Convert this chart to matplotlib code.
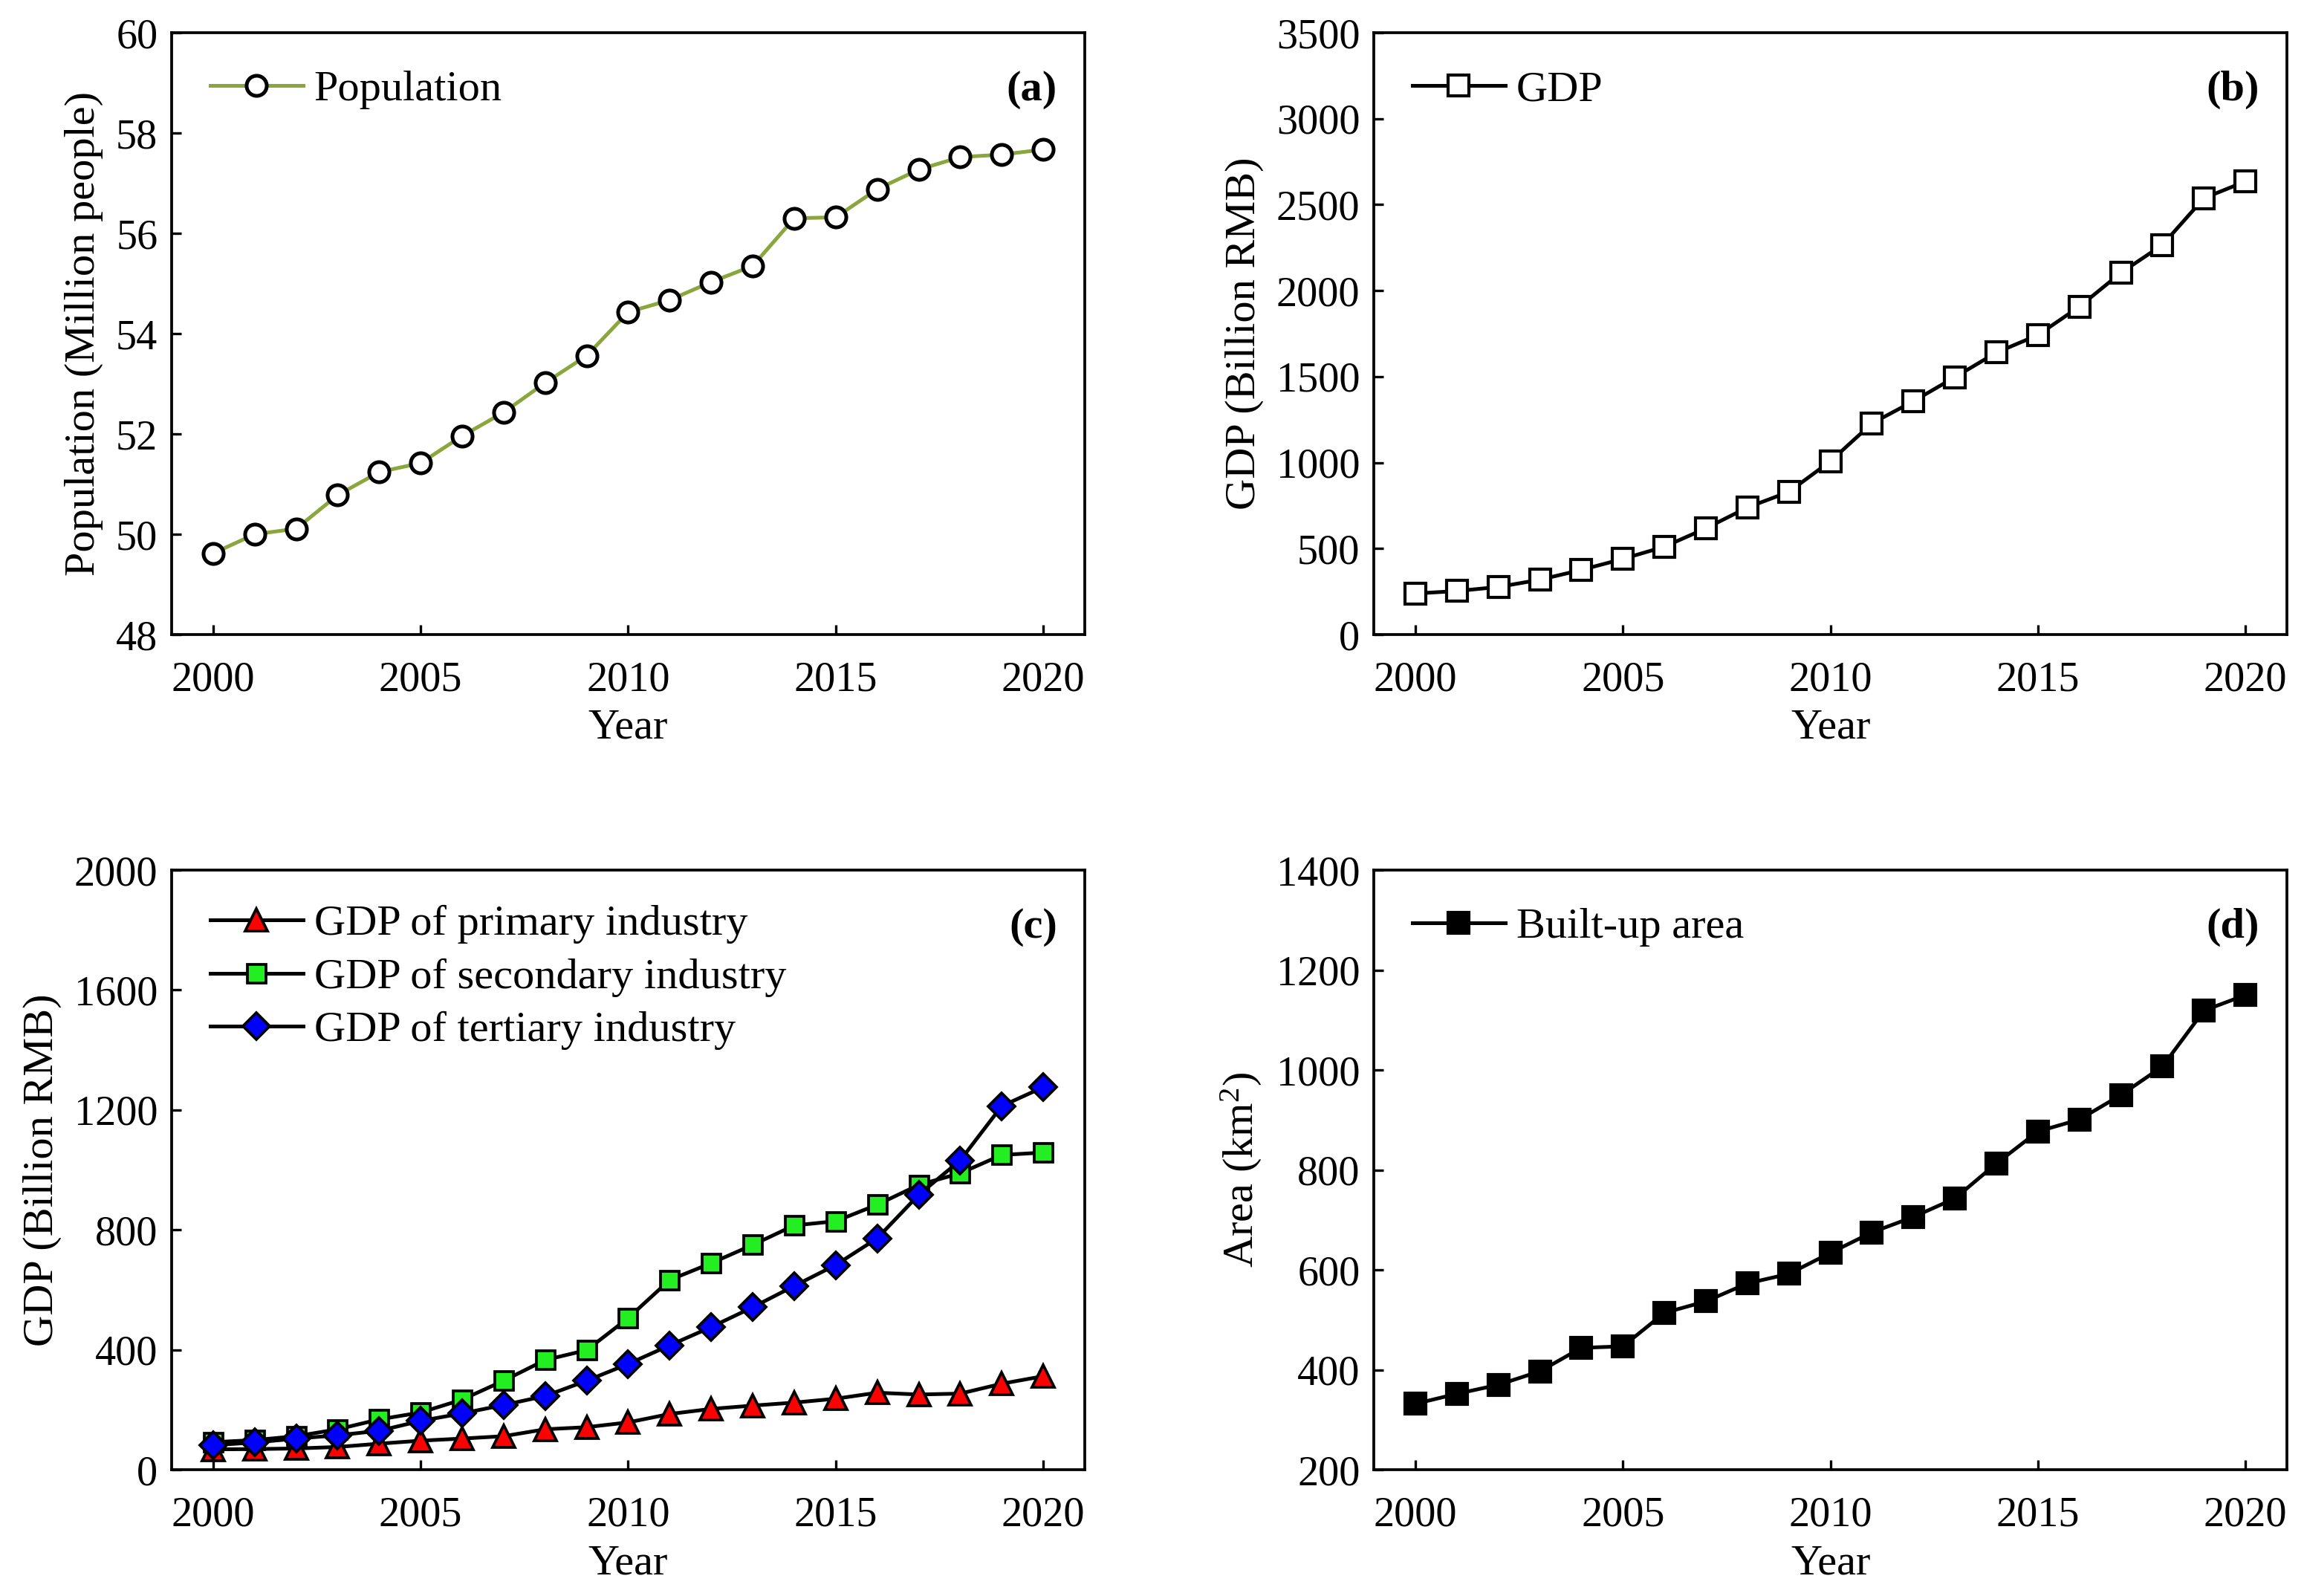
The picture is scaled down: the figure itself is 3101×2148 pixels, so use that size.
import matplotlib
matplotlib.use("Agg")
import matplotlib.pyplot as plt
import numpy as np

plt.rcParams['font.family'] = ['Liberation Serif', 'DejaVu Serif']
plt.rcParams['mathtext.fontset'] = 'custom'
plt.rcParams['mathtext.rm'] = 'Liberation Serif'
plt.rcParams['mathtext.it'] = 'Liberation Serif:italic'

years = np.arange(2000, 2021)

population = [49.62, 50.00, 50.11, 50.78, 51.24, 51.42, 51.96, 52.43, 53.02, 53.56,
              54.43, 54.67, 55.03, 55.35, 56.30, 56.32, 56.88, 57.27, 57.52, 57.57, 57.67]

gdp = [239, 253, 277, 319, 376, 440, 511, 618, 739, 830,
       1008, 1228, 1357, 1497, 1640, 1742, 1907, 2104, 2266, 2538, 2635]

gdp_primary = [68, 69, 71, 76, 87, 97, 104, 112, 135, 142,
               158, 186, 203, 214, 224, 237, 257, 251, 254, 287, 312]
gdp_secondary = [92, 99, 112, 135, 168, 191, 234, 297, 366, 399,
                 506, 633, 689, 750, 815, 829, 884, 950, 989, 1050, 1058]
gdp_tertiary = [82, 91, 104, 115, 130, 163, 188, 216, 246, 297,
                353, 415, 476, 542, 613, 683, 772, 917, 1032, 1213, 1276]

built_up = [332, 352, 370, 397, 444, 447, 514, 537, 573, 592,
            634, 675, 706, 743, 813, 877, 901, 950, 1007, 1119, 1150]

xticks = [2000, 2005, 2010, 2015, 2020]

fig = plt.figure(figsize=(3101 / 300, 2148 / 300), dpi=300)
w, h = 0.3963, 0.3771
ax_a = fig.add_axes([0.0745, 0.6024, w, h])
ax_b = fig.add_axes([0.5963, 0.6024, w, h])
ax_c = fig.add_axes([0.0745, 0.0791, w, 0.3757])
ax_d = fig.add_axes([0.5963, 0.0791, w, 0.3757])

FS = 13.5
LW = 1.2


def style(ax, ylim, yticks, ylabel, tag, leg_y=0.905):
    ax.set_xlim(1999, 2021)
    ax.set_xticks(xticks)
    ax.set_ylim(*ylim)
    ax.set_yticks(yticks)
    ax.tick_params(direction='in', length=3.2, width=0.8, labelsize=FS,
                   top=False, right=False)
    ax.tick_params(axis='x', pad=8.5)
    ax.tick_params(axis='y', pad=4.5)
    for s in ax.spines.values():
        s.set_linewidth(0.9)
    ax.set_xlabel('Year', fontsize=14, labelpad=3)
    ax.set_ylabel(ylabel, fontsize=14, labelpad=4)
    ax.text(0.97, 0.905, tag, transform=ax.transAxes, ha='right', va='center',
            fontsize=14, fontweight='bold')
    ax.legend(loc='center left', frameon=False, fontsize=14, handlelength=2.15,
              handletextpad=0.25, labelspacing=0.32, borderaxespad=0, borderpad=0,
              bbox_to_anchor=(0.042, leg_y))


ax_a.plot(years, population, color='#8AA63C', lw=LW, marker='o', ms=6.5,
          mfc='white', mec='black', mew=1.2, label='Population')
style(ax_a, (48, 60), np.arange(48, 61, 2), 'Population (Million people)', '(a)')

ax_b.plot(years, gdp, color='black', lw=LW, marker='s', ms=6.5,
          mfc='white', mec='black', mew=1.0, label='GDP')
style(ax_b, (0, 3500), np.arange(0, 3501, 500), 'GDP (Billion RMB)', '(b)')

ax_c.plot(years, gdp_primary, color='black', lw=LW, marker='^', ms=7,
          mfc='#FF0000', mec='black', mew=0.9, label='GDP of primary industry')
ax_c.plot(years, gdp_secondary, color='black', lw=LW, marker='s', ms=6,
          mfc='#22EE22', mec='black', mew=0.9, label='GDP of secondary industry')
ax_c.plot(years, gdp_tertiary, color='black', lw=LW, marker='D', ms=6,
          mfc='#0000FF', mec='black', mew=0.9, label='GDP of tertiary industry')
style(ax_c, (0, 2000), np.arange(0, 2001, 400), 'GDP (Billion RMB)', '(c)', leg_y=0.821)

ax_d.plot(years, built_up, color='black', lw=LW, marker='s', ms=6.5,
          mfc='black', mec='black', mew=1.0, label='Built-up area')
style(ax_d, (200, 1400), np.arange(200, 1401, 200), 'Area (km$^2$)', '(d)')

fig.savefig('out.png', dpi=300)
